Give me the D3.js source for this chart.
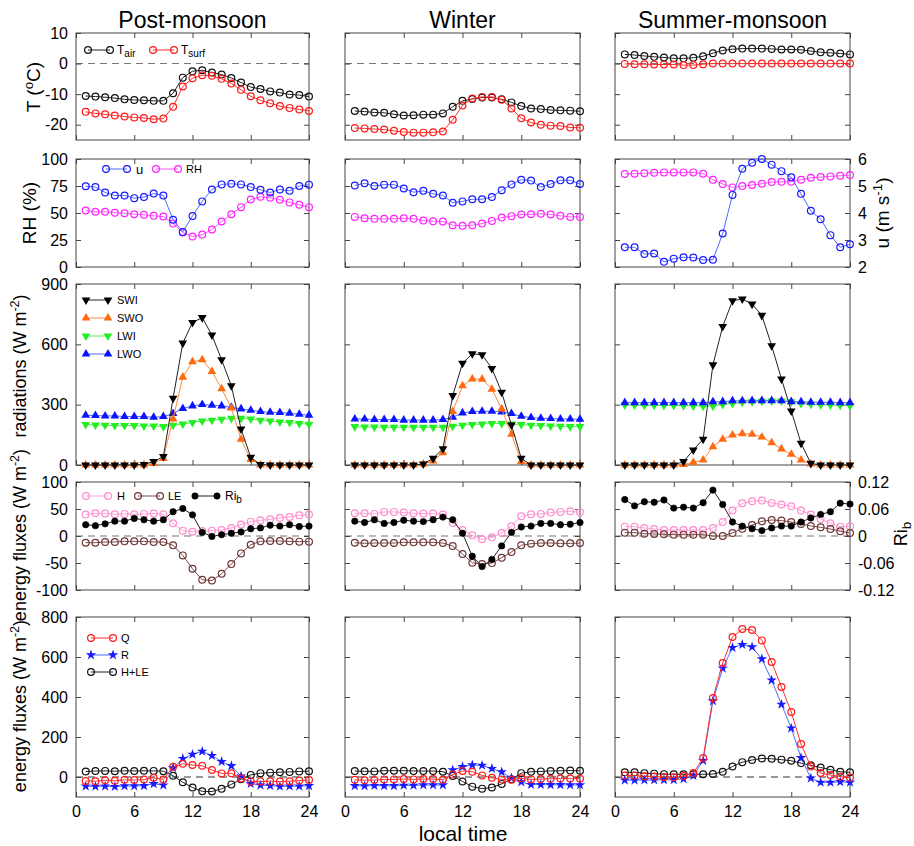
<!DOCTYPE html>
<html><head><meta charset="utf-8">
<script src="https://cdn.jsdelivr.net/npm/d3@7"></script>
<style>
body{margin:0;background:#fff;}
svg text{font-family:"Liberation Sans",Arial,Helvetica,sans-serif;fill:#000;}
</style></head><body>
<svg id="chart" width="914" height="846"></svg>
<script>
// Local hour of each hourly mean
const hours = [1,2,3,4,5,6,7,8,9,10,11,12,13,14,15,16,17,18,19,20,21,22,23,24];
const seasons = ["Post-monsoon","Winter","Summer-monsoon"];
const xTicks = [0,6,12,18,24];

// Each list: [post-monsoon, winter, summer-monsoon]
const tAir = [
  [-10.6,-10.8,-11.0,-11.3,-11.7,-11.9,-12.0,-12.2,-12.2,-9.7,-4.6,-2.5,-2.2,-2.9,-3.6,-4.7,-6.2,-7.7,-8.3,-9.1,-9.5,-10.1,-10.3,-10.8],
  [-15.5,-15.7,-16.0,-16.1,-16.6,-17.0,-16.9,-16.7,-16.7,-16.3,-14.1,-12.2,-11.6,-11.1,-11.1,-11.7,-12.7,-13.9,-14.7,-14.9,-15.2,-15.3,-15.4,-15.6],
  [3.0,2.8,2.5,2.2,2.0,1.7,1.7,1.9,2.4,3.4,4.3,4.7,4.9,4.9,4.9,4.8,4.6,4.6,4.5,4.1,3.7,3.5,3.3,3.0]
];
const tSurf = [
  [-15.8,-16.3,-16.6,-17.0,-17.3,-17.6,-17.8,-18.2,-18.0,-14.1,-7.5,-4.8,-3.8,-4.0,-5.0,-6.5,-8.6,-10.7,-12.0,-13.0,-13.9,-14.5,-15.0,-15.5],
  [-21.1,-21.2,-21.4,-21.6,-22.0,-22.4,-22.6,-22.6,-22.5,-22.2,-18.4,-13.7,-11.4,-10.9,-10.9,-11.8,-14.7,-17.9,-19.3,-20.0,-20.3,-20.4,-20.9,-21.0],
  [-0.1,-0.2,-0.2,-0.3,-0.3,-0.3,-0.5,-0.5,-0.2,0,0,0,0,0,0,0,0,0,0,0,0,0,0,0]
];
// wind speed (m s-1), right axis
const windU = [
  [4.99,4.96,4.76,4.65,4.65,4.55,4.59,4.72,4.65,3.75,3.30,3.89,4.43,4.87,5.06,5.08,5.06,4.96,4.86,4.76,4.87,4.82,5.00,5.05],
  [5.02,5.10,5.00,5.05,5.05,4.91,4.77,4.82,4.71,4.65,4.38,4.43,4.51,4.51,4.59,4.84,5.06,5.23,5.20,4.96,5.07,5.21,5.21,5.07],
  [2.73,2.73,2.48,2.50,2.19,2.31,2.36,2.35,2.26,2.27,3.24,4.67,5.64,5.86,6.00,5.79,5.55,5.32,4.71,4.08,3.77,3.18,2.73,2.84]
];
const relHum = [
  [52.3,51.1,51.1,50.2,49.8,48.9,48.3,47.4,46.7,40.2,31.9,28.2,30.0,34.7,42.1,48.9,55.4,62.5,65.0,64.1,62.2,59.8,57.6,55.4],
  [46.4,45.2,44.6,44.6,44.6,45.2,44.6,43.0,42.4,42.1,38.7,38.1,38.7,40.2,42.7,45.8,47.1,48.6,48.9,49.2,48.6,47.4,46.4,46.4],
  [86.1,86.4,86.7,87.3,87.6,87.6,87.6,87.6,86.4,80.8,76.8,73.7,74.9,75.9,77.1,78.6,78.9,78.9,80.8,82.7,83.3,83.9,84.5,85.1]
];
// radiation components (W m-2)
const swIn = [
  [0,0,0,0,0,0,3,17,42,332,606,709,733,646,523,394,179,38,2,0,0,0,0,0],
  [0,0,0,0,0,0,0,5,33,81,345,506,553,548,480,362,199,33,0,0,0,0,0,0],
  [0,0,0,0,0,0,17,75,128,498,689,817,825,800,744,593,428,269,108,8,0,0,0,0]
];
const swOut = [
  [0,0,0,0,0,0,0,8,33,229,437,513,523,465,379,283,128,28,0,0,0,0,0,0],
  [0,0,0,0,0,0,0,5,20,61,266,394,428,427,377,279,153,17,0,0,0,0,0,0],
  [0,0,0,0,0,0,3,13,25,91,128,149,156,153,139,111,80,53,25,5,0,0,0,0]
];
const lwIn = [
  [201,199,198,196,196,196,194,194,191,198,204,211,219,223,227,232,232,229,223,219,214,211,206,203],
  [191,189,189,188,188,188,188,188,188,188,193,198,201,204,206,206,204,201,198,196,194,193,191,191],
  [299,298,297,297,296,296,295,294,292,293,301,306,312,315,317,318,318,314,306,302,300,298,297,295]
];
const lwOut = [
  [247,246,244,244,241,241,241,237,241,256,281,294,301,297,294,287,279,272,266,262,261,257,252,247],
  [229,229,226,226,226,223,223,223,223,226,237,259,266,267,267,264,256,242,236,232,231,229,229,227],
  [310,310,310,310,310,310,310,310,310,314,315,319,319,320,320,320,319,315,314,312,312,312,310,310]
];
// turbulent fluxes (W m-2) and bulk Richardson number
const sensH = [
  [39.6,42.1,41.5,40.2,40.9,40.2,40.9,41.5,40.2,23.5,9.9,8.0,9.3,9.9,11.1,14.9,21.1,26.6,29.1,31.0,33.4,35.3,38.4,39.6],
  [42.1,42.1,40.9,44.6,44.6,43.3,42.1,41.5,41.5,39.6,24.1,11.1,1.2,-6.2,-2.5,5.6,18.0,36.5,40.2,40.9,43.3,44.6,45.8,44.0],
  [17.3,17.3,14.9,13.0,11.1,11.1,11.1,11.1,11.1,14.9,26.0,47.1,60.7,64.4,65.6,61.3,58.2,55.1,47.1,39.6,31.6,23.5,17.3,18.0]
];
const latLE = [
  [-12.4,-12.4,-11.1,-11.1,-9.9,-9.9,-9.9,-11.1,-11.1,-17.3,-35.9,-60.7,-81.1,-82.4,-70.0,-52.0,-32.2,-16.1,-9.9,-9.3,-9.3,-9.9,-10.5,-10.5],
  [-12.4,-13.6,-13.0,-13.0,-13.0,-11.8,-11.8,-11.8,-11.8,-13.0,-18.6,-33.4,-49.5,-52.0,-50.2,-40.2,-29.7,-17.3,-14.2,-13.0,-13.0,-13.6,-13.6,-13.0],
  [6.2,6.2,4.3,3.7,3.1,2.5,2.5,2.5,2.5,0,0,5.6,13.6,20.4,27.2,29.7,28.5,26.0,22.3,18.6,16.1,13.0,8.7,5.6]
];
const riB = [
  [0.025,0.023,0.027,0.033,0.033,0.039,0.036,0.033,0.036,0.054,0.061,0.047,0.008,-0.001,0.003,0.006,0.009,0.016,0.018,0.024,0.022,0.025,0.021,0.022],
  [0.033,0.030,0.036,0.028,0.030,0.035,0.033,0.032,0.036,0.042,0.036,0.006,-0.045,-0.068,-0.052,-0.022,0.008,0.020,0.022,0.028,0.028,0.025,0.026,0.030],
  [0.081,0.067,0.076,0.075,0.080,0.062,0.064,0.062,0.074,0.102,0.070,0.031,0.022,0.016,0.012,0.018,0.022,0.022,0.031,0.040,0.048,0.054,0.073,0.071]
];
// surface energy balance (W m-2)
const fluxQ = [
  [-20,-21,-16,-19,-14,-15,-13,-4,-12,51,66,60,56,35,18,19,-7,-22,-22,-21,-23,-21,-18,-15],
  [-14,-16,-15,-12,-12,-10,-12,-10,-10,-14,12,30,26,8,-4,-12,-14,-6,-12,-10,-9,-8,-8,-9],
  [7,7,4,2,0,-1,5,20,95,395,570,700,740,735,683,575,450,325,165,52,20,10,2,-3]
];
const fluxR = [
  [-46,-47,-46,-48,-45,-45,-44,-34,-41,45,92,113,128,107,77,56,4,-33,-41,-43,-47,-46,-46,-44],
  [-44,-45,-43,-44,-44,-42,-42,-40,-40,-40,35,51,60,58,42,25,-5,-25,-38,-38,-39,-39,-40,-40],
  [-16,-16,-15,-15,-14,-14,-9,7,82,380,544,647,662,650,590,484,363,244,96,-6,-27,-27,-24,-27]
];
const fluxHLE = [
  [27.2,29.7,30.4,29.1,31.0,30.3,31.0,30.4,29.1,6.2,-26.0,-52.7,-71.8,-72.5,-58.9,-37.1,-11.1,10.5,19.2,21.7,24.1,25.4,27.9,29.1],
  [29.7,28.5,27.9,31.6,31.6,31.5,30.3,29.7,29.7,26.6,5.5,-22.3,-48.3,-58.2,-52.7,-34.6,-11.7,19.2,26.0,27.9,30.3,31.0,32.2,31.0],
  [23.5,23.5,19.2,16.7,14.2,13.6,13.6,13.6,13.6,14.9,26.0,52.7,74.3,84.8,92.8,91.0,86.7,81.1,69.4,58.2,47.7,36.5,26.0,23.6]
];

const svg = d3.select("#chart");
const colX = [[76,309],[345,580],[615,850]];
const rowY = [[33,140],[159,267],[284,465],[482,590],[617,797]];
const frameColor = "#444";

const rows = [
  {domain:[-25,10], ticks:[-20,-10,0,10], zero:true},
  {domain:[0,100], ticks:[0,25,50,75,100], right:{domain:[2,6], ticks:[2,3,4,5,6]}},
  {domain:[0,900], ticks:[0,300,600,900]},
  {domain:[-100,100], ticks:[-100,-50,0,50,100], zero:true, right:{domain:[-0.12,0.12], ticks:[-0.12,-0.06,0,0.06,0.12]}},
  {domain:[-100,800], ticks:[0,200,400,600,800], zero:true}
];

function marker(sel, type, color){
  if(type === "circle"){
    sel.append("circle").attr("r", 3.4).attr("fill","none").attr("stroke",color).attr("stroke-width",1.2);
  } else if(type === "dot"){
    sel.append("circle").attr("r", 3.2).attr("fill",color).attr("stroke",color).attr("stroke-width",0.6);
  } else if(type === "tdown" || type === "tup"){
    sel.append("path").attr("d", d3.symbol(d3.symbolTriangle, 33)())
      .attr("transform", type === "tdown" ? "rotate(180)" : null)
      .attr("fill",color);
  } else if(type === "star"){
    sel.append("path").attr("d", d3.symbol(d3.symbolStar, 34)()).attr("fill",color);
  }
}

function drawSeries(g, x, y, values, color, lineColor, type){
  const pts = hours.map((h,i)=>[h, values[i]]);
  g.append("path").datum(pts)
    .attr("fill","none").attr("stroke",lineColor).attr("stroke-width",1)
    .attr("d", d3.line().x(d=>x(d[0])).y(d=>y(d[1])));
  const m = g.append("g").selectAll("g").data(pts).join("g")
    .attr("transform", d=>`translate(${x(d[0])},${y(d[1])})`);
  m.each(function(){ marker(d3.select(this), type, color); });
}

function legendItem(g, x0, x1, tx, y, color, lineColor, type){
  g.append("line").attr("x1",x0).attr("x2",x1).attr("y1",y).attr("y2",y)
    .attr("stroke",lineColor).attr("stroke-width",1);
  [x0,x1].forEach(px=>{
    const s = g.append("g").attr("transform",`translate(${px},${y})`);
    marker(s, type, color);
  });
  return g.append("text").attr("x",tx).attr("y",y).attr("dy","0.35em").attr("font-size",11);
}

const fmt = d => String(d);

rows.forEach((row, r)=>{
  const [y0,y1] = rowY[r];
  seasons.forEach((season, c)=>{
    const [x0,x1] = colX[c];
    const x = d3.scaleLinear().domain([0,24]).range([x0,x1]);
    const y = d3.scaleLinear().domain(row.domain).range([y1,y0]);
    const g = svg.append("g");

    // zero reference
    if(row.zero){
      g.append("line").attr("x1",x0).attr("x2",x1).attr("y1",y(0)).attr("y2",y(0))
        .attr("stroke", r===4 ? "#333" : "#777").attr("stroke-width",1.1).attr("stroke-dasharray","7,5");
    }

    // axes with inward ticks
    const left = d3.axisLeft(y).tickValues(row.ticks).tickSize(-5).tickPadding(8)
      .tickFormat(c===0 ? fmt : "");
    const gl = g.append("g").attr("transform",`translate(${x0},0)`).call(left);
    const rightScale = row.right ? d3.scaleLinear().domain(row.right.domain).range([y1,y0]) : y;
    const right = d3.axisRight(rightScale).tickValues(row.right ? row.right.ticks : row.ticks)
      .tickSize(-5).tickPadding(8).tickFormat(c===2 && row.right ? fmt : "");
    const gr = g.append("g").attr("transform",`translate(${x1},0)`).call(right);
    const bottom = d3.axisBottom(x).tickValues(xTicks).tickSize(-5).tickPadding(9)
      .tickFormat(r===4 ? fmt : "");
    const gb = g.append("g").attr("transform",`translate(0,${y1})`).call(bottom);
    const top = d3.axisTop(x).tickValues(xTicks).tickSize(-5).tickFormat("");
    const gt = g.append("g").attr("transform",`translate(0,${y0})`).call(top);
    [gl,gr,gb,gt].forEach(a=>{
      a.select(".domain").remove();
      a.selectAll(".tick line").attr("stroke",frameColor);
      a.selectAll(".tick text").attr("font-size",16).attr("font-family","Liberation Sans, Arial, sans-serif").attr("fill","#000");
    });

    g.append("rect").attr("x",x0).attr("y",y0).attr("width",x1-x0).attr("height",y1-y0)
      .attr("fill","none").attr("stroke",frameColor).attr("stroke-width",1);

    const plot = g.append("g");
    if(r===0){
      drawSeries(plot, x, y, tAir[c], "#111", "#222", "circle");
      drawSeries(plot, x, y, tSurf[c], "#ff1a1a", "#ff3030", "circle");
    } else if(r===1){
      const yu = rightScale;
      drawSeries(plot, x, y, relHum[c], "#ff22ff", "#ff55ff", "circle");
      drawSeries(plot, x, yu, windU[c], "#1a1aff", "#4d6bff", "circle");
    } else if(r===2){
      drawSeries(plot, x, y, lwIn[c], "#22ee22", "#55ee55", "tdown");
      drawSeries(plot, x, y, lwOut[c], "#0a14ff", "#4d6bff", "tup");
      drawSeries(plot, x, y, swOut[c], "#ff6a10", "#ff8a40", "tup");
      drawSeries(plot, x, y, swIn[c], "#000", "#222", "tdown");
    } else if(r===3){
      const yr = rightScale;
      drawSeries(plot, x, y, sensH[c], "#ff8ccc", "#ff9fd4", "circle");
      drawSeries(plot, x, y, latLE[c], "#6e3535", "#7a4a4a", "circle");
      drawSeries(plot, x, yr, riB[c], "#000", "#222", "dot");
    } else {
      drawSeries(plot, x, y, fluxHLE[c], "#111", "#222", "circle");
      drawSeries(plot, x, y, fluxR[c], "#1a1aff", "#4d6bff", "star");
      drawSeries(plot, x, y, fluxQ[c], "#ff1a1a", "#ff3030", "circle");
    }
  });
});

// column titles
seasons.forEach((s,c)=>{
  svg.append("text").attr("x",(colX[c][0]+colX[c][1])/2).attr("y",28)
    .attr("text-anchor","middle").attr("font-size",23).text(s);
});

// legends
const lg = svg.append("g");
let t = legendItem(lg, 88, 110, 117, 50, "#111", "#222", "circle");
t.attr("font-size",12).text("T").append("tspan").attr("dy",3).attr("font-size",10).text("air");
t = legendItem(lg, 153, 174, 181, 50, "#ff1a1a", "#ff3030", "circle");
t.attr("font-size",12).text("T").append("tspan").attr("dy",3).attr("font-size",10).text("surf");
legendItem(lg, 106, 127, 136, 169, "#1a1aff", "#4d6bff", "circle").attr("font-size",13).text("u");
legendItem(lg, 156, 178, 186, 169, "#ff22ff", "#ff55ff", "circle").text("RH");
legendItem(lg, 86, 108, 117, 300, "#000", "#222", "tdown").text("SWI");
legendItem(lg, 86, 108, 117, 318, "#ff6a10", "#ff8a40", "tup").text("SWO");
legendItem(lg, 86, 108, 117, 336, "#22ee22", "#55ee55", "tdown").text("LWI");
legendItem(lg, 86, 108, 117, 354, "#0a14ff", "#4d6bff", "tup").text("LWO");
legendItem(lg, 86, 108, 117, 496, "#ff8ccc", "#ff9fd4", "circle").text("H");
legendItem(lg, 138, 160, 168, 496, "#6e3535", "#7a4a4a", "circle").text("LE");
t = legendItem(lg, 195, 217, 225, 496, "#000", "#222", "dot");
t.attr("font-size",12).text("Ri").append("tspan").attr("dy",3).attr("font-size",10).text("b");
legendItem(lg, 91, 113, 121, 638, "#ff1a1a", "#ff3030", "circle").text("Q");
legendItem(lg, 91, 113, 121, 655, "#1a1aff", "#4d6bff", "star").text("R");
legendItem(lg, 91, 113, 121, 672, "#111", "#222", "circle").text("H+LE");

// axis titles
function vLabel(x, y, parts, size){
  const tx = svg.append("text").attr("transform",`translate(${x},${y}) rotate(-90)`)
    .attr("text-anchor","middle").attr("font-size",size);
  parts.forEach(p=>{
    const sp = tx.append("tspan").text(p.t);
    if(p.sup){ sp.attr("dy",-7).attr("font-size",size*0.7); }
    if(p.sub){ sp.attr("dy",4).attr("font-size",size*0.75); }
    if(p.back){ sp.attr("dy",p.back); }
  });
}
vLabel(40, 87, [{t:"T ("},{t:"o",sup:true},{t:"C)",back:7}], 19);
vLabel(36, 213, [{t:"RH (%)"}], 19);
vLabel(26, 366, [{t:"radiations (W m"},{t:"-2",sup:true},{t:")",back:7}], 18);
vLabel(26, 535, [{t:"energy fluxes (W m"},{t:"-2",sup:true},{t:")",back:7}], 18);
vLabel(26, 706, [{t:"energy fluxes (W m"},{t:"-2",sup:true},{t:")",back:7}], 18);
vLabel(889, 213, [{t:"u (m s"},{t:"-1",sup:true},{t:")",back:7}], 19);
vLabel(907, 534, [{t:"Ri"},{t:"b",sub:true}], 18);

svg.append("text").attr("x",463).attr("y",841).attr("text-anchor","middle")
  .attr("font-size",21).text("local time");
</script>
</body></html>
